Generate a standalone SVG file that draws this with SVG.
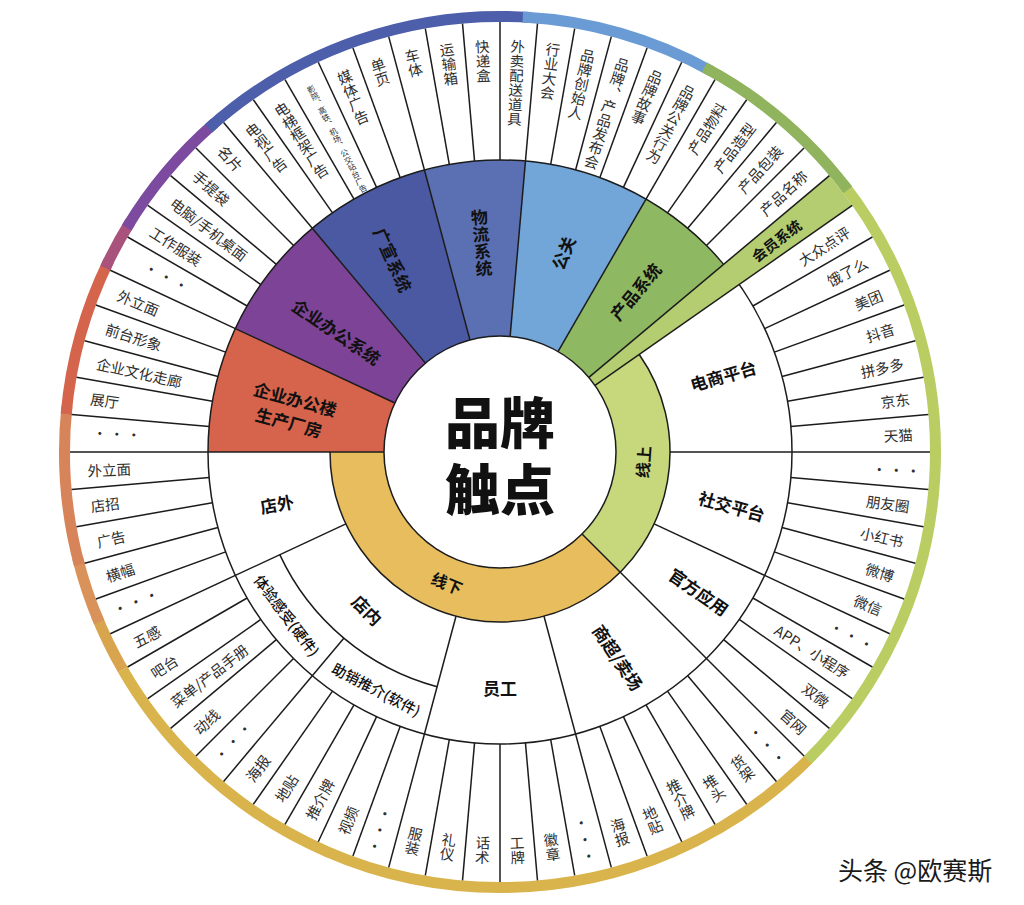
<svg xmlns="http://www.w3.org/2000/svg" width="1024" height="905" viewBox="0 0 1024 905">
<defs>
<style>
.t{font-family:"Noto Sans CJK SC","Noto Sans",sans-serif;font-size:14.5px;fill:#2e2e2e;dominant-baseline:central}
.v{writing-mode:vertical-rl;text-orientation:upright}
.e{text-anchor:end}
.m{text-anchor:middle}
.d{letter-spacing:2.5px}
.b{font-family:"Noto Sans CJK SC","Noto Sans",sans-serif;font-weight:700;font-size:17px;fill:#111;text-anchor:middle;dominant-baseline:central}
.ln{stroke:#1c1c1c;stroke-width:1.5;fill:none}
.rim{fill:none;stroke-width:11}
.sec{fill:none;stroke-width:176}
.ring{fill:none;stroke-width:54}
</style>
</defs>
<rect width="1024" height="905" fill="#ffffff"/>
<g transform="translate(500 452)">
<g id="rim">
<circle class="rim" r="435.5" stroke="#b9cd63" stroke-dasharray="631 9999" transform="rotate(322)"/>
<circle class="rim" r="435.5" stroke="#d9b34b" stroke-dasharray="798 9999" transform="rotate(45)"/>
<circle class="rim" r="435.5" stroke="#d9a44e" stroke-dasharray="61 9999" transform="rotate(150)"/>
<circle class="rim" r="435.5" stroke="#d9935a" stroke-dasharray="68 9999" transform="rotate(157)"/>
<circle class="rim" r="435.5" stroke="#d8845a" stroke-dasharray="160 9999" transform="rotate(165)"/>
<circle class="rim" r="435.5" stroke="#d4644c" stroke-dasharray="160 9999" transform="rotate(185)"/>
<circle class="rim" r="435.5" stroke="#a9537c" stroke-dasharray="53 9999" transform="rotate(205)"/>
<circle class="rim" r="435.5" stroke="#7c4b9f" stroke-dasharray="137 9999" transform="rotate(211)"/>
<circle class="rim" r="435.5" stroke="#4d5eaa" stroke-dasharray="350 9999" transform="rotate(228)"/>
<circle class="rim" r="435.5" stroke="#6a9bd4" stroke-dasharray="198 9999" transform="rotate(273)"/>
<circle class="rim" r="435.5" stroke="#90b45e" stroke-dasharray="190 9999" transform="rotate(298)"/>
</g>
<g id="sector-fills">
<circle class="sec" r="204" stroke="#d6634b" stroke-dasharray="89.5 9999" transform="rotate(180)"/>
<circle class="sec" r="204" stroke="#7d4396" stroke-dasharray="89.5 9999" transform="rotate(205)"/>
<circle class="sec" r="204" stroke="#4b58a2" stroke-dasharray="89.5 9999" transform="rotate(230)"/>
<circle class="sec" r="204" stroke="#5b70b2" stroke-dasharray="71.7 9999" transform="rotate(255)"/>
<circle class="sec" r="204" stroke="#72a5d8" stroke-dasharray="89.5 9999" transform="rotate(275)"/>
<circle class="sec" r="204" stroke="#8fb862" stroke-dasharray="71.7 9999" transform="rotate(300)"/>
<circle class="ring" r="143" stroke="#c6d77c" stroke-dasharray="199.7 9999" transform="rotate(325)"/>
<circle class="ring" r="143" stroke="#e8bd5e" stroke-dasharray="337 9999" transform="rotate(45)"/>
</g>
<g id="connectors">
<line class="ln" x1="292" x2="430" transform="rotate(0)"/>
<line class="ln" x1="292" x2="430" transform="rotate(5)"/>
<line class="ln" x1="292" x2="430" transform="rotate(10)"/>
<line class="ln" x1="292" x2="430" transform="rotate(15)"/>
<line class="ln" x1="292" x2="430" transform="rotate(20)"/>
<line class="ln" x1="292" x2="430" transform="rotate(25)"/>
<line class="ln" x1="292" x2="430" transform="rotate(30)"/>
<line class="ln" x1="292" x2="430" transform="rotate(35)"/>
<line class="ln" x1="292" x2="430" transform="rotate(40)"/>
<line class="ln" x1="292" x2="430" transform="rotate(45)"/>
<line class="ln" x1="292" x2="430" transform="rotate(50)"/>
<line class="ln" x1="292" x2="430" transform="rotate(55)"/>
<line class="ln" x1="292" x2="430" transform="rotate(60)"/>
<line class="ln" x1="292" x2="430" transform="rotate(65)"/>
<line class="ln" x1="292" x2="430" transform="rotate(70)"/>
<line class="ln" x1="292" x2="430" transform="rotate(75)"/>
<line class="ln" x1="292" x2="430" transform="rotate(80)"/>
<line class="ln" x1="292" x2="430" transform="rotate(85)"/>
<line class="ln" x1="292" x2="430" transform="rotate(90)"/>
<line class="ln" x1="292" x2="430" transform="rotate(95)"/>
<line class="ln" x1="292" x2="430" transform="rotate(100)"/>
<line class="ln" x1="292" x2="430" transform="rotate(105)"/>
<line class="ln" x1="292" x2="430" transform="rotate(110)"/>
<line class="ln" x1="292" x2="430" transform="rotate(115)"/>
<line class="ln" x1="292" x2="430" transform="rotate(120)"/>
<line class="ln" x1="292" x2="430" transform="rotate(125)"/>
<line class="ln" x1="292" x2="430" transform="rotate(130)"/>
<line class="ln" x1="292" x2="430" transform="rotate(135)"/>
<line class="ln" x1="292" x2="430" transform="rotate(140)"/>
<line class="ln" x1="292" x2="430" transform="rotate(145)"/>
<line class="ln" x1="292" x2="430" transform="rotate(150)"/>
<line class="ln" x1="292" x2="430" transform="rotate(155)"/>
<line class="ln" x1="292" x2="430" transform="rotate(160)"/>
<line class="ln" x1="292" x2="430" transform="rotate(165)"/>
<line class="ln" x1="292" x2="430" transform="rotate(170)"/>
<line class="ln" x1="292" x2="430" transform="rotate(175)"/>
<line class="ln" x1="292" x2="430" transform="rotate(180)"/>
<line class="ln" x1="292" x2="430" transform="rotate(185)"/>
<line class="ln" x1="292" x2="430" transform="rotate(190)"/>
<line class="ln" x1="292" x2="430" transform="rotate(195)"/>
<line class="ln" x1="292" x2="430" transform="rotate(200)"/>
<line class="ln" x1="292" x2="430" transform="rotate(205)"/>
<line class="ln" x1="292" x2="430" transform="rotate(210)"/>
<line class="ln" x1="292" x2="430" transform="rotate(215)"/>
<line class="ln" x1="292" x2="430" transform="rotate(220)"/>
<line class="ln" x1="292" x2="430" transform="rotate(225)"/>
<line class="ln" x1="292" x2="430" transform="rotate(230)"/>
<line class="ln" x1="292" x2="430" transform="rotate(235)"/>
<line class="ln" x1="292" x2="430" transform="rotate(240)"/>
<line class="ln" x1="292" x2="430" transform="rotate(245)"/>
<line class="ln" x1="292" x2="430" transform="rotate(250)"/>
<line class="ln" x1="292" x2="430" transform="rotate(255)"/>
<line class="ln" x1="292" x2="430" transform="rotate(260)"/>
<line class="ln" x1="292" x2="430" transform="rotate(265)"/>
<line class="ln" x1="292" x2="430" transform="rotate(270)"/>
<line class="ln" x1="292" x2="430" transform="rotate(275)"/>
<line class="ln" x1="292" x2="430" transform="rotate(280)"/>
<line class="ln" x1="292" x2="430" transform="rotate(285)"/>
<line class="ln" x1="292" x2="430" transform="rotate(290)"/>
<line class="ln" x1="292" x2="430" transform="rotate(295)"/>
<line class="ln" x1="292" x2="430" transform="rotate(300)"/>
<line class="ln" x1="292" x2="430" transform="rotate(305)"/>
<line class="ln" x1="292" x2="430" transform="rotate(310)"/>
<line class="ln" x1="292" x2="430" transform="rotate(315)"/>
<line class="ln" x1="292" x2="430" transform="rotate(330)"/>
<line class="ln" x1="292" x2="430" transform="rotate(335)"/>
<line class="ln" x1="292" x2="430" transform="rotate(340)"/>
<line class="ln" x1="292" x2="430" transform="rotate(345)"/>
<line class="ln" x1="292" x2="430" transform="rotate(350)"/>
<line class="ln" x1="292" x2="430" transform="rotate(355)"/>
<circle class="ln" r="292"/>
<circle r="273" fill="none" stroke="#b3cd70" stroke-width="314" stroke-dasharray="23.8 9999" transform="rotate(320)"/>
<line class="ln" x1="116" x2="430" transform="rotate(320)"/>
<line class="ln" x1="116" x2="430" transform="rotate(325)"/>
<line class="ln" x1="116" x2="292" transform="rotate(180)"/>
<line class="ln" x1="116" x2="292" transform="rotate(205)"/>
<line class="ln" x1="116" x2="292" transform="rotate(230)"/>
<line class="ln" x1="116" x2="292" transform="rotate(255)"/>
<line class="ln" x1="116" x2="292" transform="rotate(275)"/>
<line class="ln" x1="116" x2="292" transform="rotate(300)"/>
<line class="ln" x1="116" x2="292" transform="rotate(45)"/>
<line class="ln" x1="170" x2="292" transform="rotate(0)"/>
<line class="ln" x1="170" x2="292" transform="rotate(25)"/>
<line class="ln" x1="170" x2="292" transform="rotate(75)"/>
<line class="ln" x1="170" x2="292" transform="rotate(105)"/>
<line class="ln" x1="170" x2="292" transform="rotate(155)"/>
<line class="ln" x1="243" x2="292" transform="rotate(130)"/>
<circle class="ln" r="116" fill="#ffffff"/>
<circle class="ln" r="170" stroke-dasharray="638 9999" transform="rotate(325)"/>
<circle class="ln" r="243" stroke-dasharray="212 9999" transform="rotate(105)"/>
</g>
<g id="center">
<text class="b" style="font-size:55px;font-weight:900"><tspan x="0" y="-33">品牌</tspan><tspan x="0" y="34">触点</tspan></text>
</g>
<g id="ring-labels">
<text class="b" style="font-size:16px" transform="rotate(4) translate(143 0) rotate(-90)">线上</text>
<text class="b" style="font-size:16px" transform="rotate(112) translate(141 0) rotate(-90)">线下</text>
</g>
<g id="sector-labels">
<text class="b" transform="rotate(191.5) translate(212 0) rotate(183.5)"><tspan x="0" y="-12">企业办公楼</tspan><tspan x="0" y="12">生产厂房</tspan></text>
<text class="b" transform="rotate(216.5) translate(203 0) rotate(177.5)">企业办公系统</text>
<text class="b" transform="rotate(241) translate(220 0) rotate(185)">广宣系统</text>
<text class="b v" transform="rotate(265) translate(210 0) rotate(90)">物流系统</text>
<text class="b" transform="rotate(287.5) translate(209 0) rotate(5)">公关</text>
<text class="b" transform="rotate(310) translate(210 0)">产品系统</text>
<text class="b" style="font-size:14.5px" transform="rotate(322.5) translate(348 0)">会员系统</text>
<text class="b" transform="rotate(341) translate(236 0) rotate(3)">电商平台</text>
<text class="b" transform="rotate(13) translate(238 0) rotate(2.5)">社交平台</text>
<text class="b" transform="rotate(35) translate(243 0)">官方应用</text>
<text class="b" transform="rotate(60) translate(237 0) rotate(-4)">商超/卖场</text>
<text class="b" transform="rotate(90) translate(235 0) rotate(-90)">员工</text>
<text class="b" transform="rotate(130) translate(206 0) rotate(-85)">店内</text>
<text class="b" transform="rotate(167) translate(229 0) rotate(182)">店外</text>
<text class="b" style="font-size:14.5px;font-weight:500" transform="rotate(142.5) translate(268 0) rotate(-89.5)">体验感受(硬件)</text>
<text class="b" style="font-size:14.5px;font-weight:500" transform="rotate(117.5) translate(267 0) rotate(-90)">助销推介(软件)</text>
</g>
<g id="leaves">
<text class="t e" transform="rotate(327.5) translate(413 0)">大众点评</text>
<text class="t e" transform="rotate(332.5) translate(413 0)">饿了么</text>
<text class="t e" transform="rotate(337.5) translate(413 0)">美团</text>
<text class="t e" transform="rotate(342.5) translate(413 0)">抖音</text>
<text class="t e" transform="rotate(347.5) translate(413 0)">拼多多</text>
<text class="t e" transform="rotate(352.5) translate(413 0)">京东</text>
<text class="t e" transform="rotate(357.5) translate(413 0)">天猫</text>
<text class="t e" transform="rotate(7.5) translate(413 0)">朋友圈</text>
<text class="t e" transform="rotate(12.5) translate(413 0)">小红书</text>
<text class="t e" transform="rotate(17.5) translate(413 0)">微博</text>
<text class="t e" transform="rotate(22.5) translate(413 0)">微信</text>
<text class="t e" transform="rotate(32.5) translate(413 0)">APP、小程序</text>
<text class="t e" transform="rotate(37.5) translate(413 0)">双微</text>
<text class="t e" transform="rotate(42.5) translate(413 0)">官网</text>
<text class="t e" transform="rotate(302.5) translate(413 0)">产品物料</text>
<text class="t e" transform="rotate(307.5) translate(413 0)">产品造型</text>
<text class="t e" transform="rotate(312.5) translate(413 0)">产品包装</text>
<text class="t e" transform="rotate(317.5) translate(413 0)">产品名称</text>
<text class="t m d" transform="rotate(2.5) translate(398 0)">···</text>
<text class="t m d" transform="rotate(27.5) translate(398 0)">···</text>
<text class="t m d" transform="rotate(47.5) translate(398 0)">···</text>
<text class="t m d" transform="rotate(77.5) translate(398 0)">···</text>
<text class="t m d" transform="rotate(107.5) translate(398 0)">···</text>
<text class="t m d" transform="rotate(132.5) translate(395 0)">···</text>
<text class="t m d" transform="rotate(157.5) translate(395 0)">···</text>
<text class="t m d" transform="rotate(182.5) translate(385 0)">···</text>
<text class="t m d" transform="rotate(207.5) translate(378 0)">···</text>
<text class="t v e" transform="rotate(52.5) translate(413 0) rotate(-90)">货架</text>
<text class="t v e" transform="rotate(57.5) translate(413 0) rotate(-90)">堆头</text>
<text class="t v e" transform="rotate(62.5) translate(413 0) rotate(-90)">推介牌</text>
<text class="t v e" transform="rotate(67.5) translate(413 0) rotate(-90)">地贴</text>
<text class="t v e" transform="rotate(72.5) translate(413 0) rotate(-90)">海报</text>
<text class="t v e" transform="rotate(82.5) translate(413 0) rotate(-90)">徽章</text>
<text class="t v e" transform="rotate(87.5) translate(413 0) rotate(-90)">工牌</text>
<text class="t v e" transform="rotate(92.5) translate(413 0) rotate(-90)">话术</text>
<text class="t v e" transform="rotate(97.5) translate(413 0) rotate(-90)">礼仪</text>
<text class="t v e" transform="rotate(102.5) translate(413 0) rotate(-90)">服装</text>
<text class="t" transform="rotate(112.5) translate(413 0) rotate(180)">视频</text>
<text class="t" transform="rotate(117.5) translate(413 0) rotate(180)">推介牌</text>
<text class="t" transform="rotate(122.5) translate(413 0) rotate(180)">地贴</text>
<text class="t" transform="rotate(127.5) translate(413 0) rotate(180)">海报</text>
<text class="t" transform="rotate(137.5) translate(413 0) rotate(180)">动线</text>
<text class="t" transform="rotate(142.5) translate(413 0) rotate(180)">菜单/产品手册</text>
<text class="t" transform="rotate(147.5) translate(413 0) rotate(180)">吧台</text>
<text class="t" transform="rotate(152.5) translate(413 0) rotate(180)">五感</text>
<text class="t" transform="rotate(162.5) translate(413 0) rotate(180)">横幅</text>
<text class="t" transform="rotate(167.5) translate(413 0) rotate(180)">广告</text>
<text class="t" transform="rotate(172.5) translate(413 0) rotate(180)">店招</text>
<text class="t" transform="rotate(177.5) translate(413 0) rotate(180)">外立面</text>
<text class="t" transform="rotate(187.5) translate(413 0) rotate(180)">展厅</text>
<text class="t" transform="rotate(192.5) translate(413 0) rotate(180)">企业文化走廊</text>
<text class="t" transform="rotate(197.5) translate(413 0) rotate(180)">前台形象</text>
<text class="t" transform="rotate(202.5) translate(413 0) rotate(180)">外立面</text>
<text class="t" transform="rotate(212.5) translate(413 0) rotate(180)">工作服装</text>
<text class="t" transform="rotate(217.5) translate(413 0) rotate(180)">电脑/手机桌面</text>
<text class="t" transform="rotate(222.5) translate(413 0) rotate(180)">手提袋</text>
<text class="t" transform="rotate(227.5) translate(413 0) rotate(180)">名片</text>
<text class="t v" transform="rotate(232.5) translate(413 0) rotate(90)">电视广告</text>
<text class="t v" transform="rotate(237.5) translate(413 0) rotate(90)">电梯框架广告</text>
<text class="t v" style="font-size:8px" transform="rotate(242.5) translate(413 0) rotate(90)">影院、高铁、机场、公交站台广告</text>
<text class="t v" transform="rotate(247.5) translate(413 0) rotate(90)">媒体广告</text>
<text class="t v" transform="rotate(252.5) translate(413 0) rotate(90)">单页</text>
<text class="t v" transform="rotate(257.5) translate(413 0) rotate(90)">车体</text>
<text class="t v" transform="rotate(262.5) translate(413 0) rotate(90)">运输箱</text>
<text class="t v" transform="rotate(267.5) translate(413 0) rotate(90)">快递盒</text>
<text class="t v" transform="rotate(272.5) translate(413 0) rotate(90)">外卖配送道具</text>
<text class="t v" transform="rotate(277.5) translate(413 0) rotate(90)">行业大会</text>
<text class="t v" transform="rotate(282.5) translate(413 0) rotate(90)">品牌创始人</text>
<text class="t v" transform="rotate(287.5) translate(413 0) rotate(90)">品牌、产品发布会</text>
<text class="t v" transform="rotate(292.5) translate(413 0) rotate(90)">品牌故事</text>
<text class="t v" transform="rotate(297.5) translate(413 0) rotate(90)">品牌公关行为</text>
</g>
</g>
<g id="watermark">
<text x="838" y="869" style="font-family:'Noto Sans CJK SC','Noto Sans',sans-serif;font-size:25px;fill:#1a1a1a;dominant-baseline:central">头条 @欧赛斯</text>
</g>
</svg>
